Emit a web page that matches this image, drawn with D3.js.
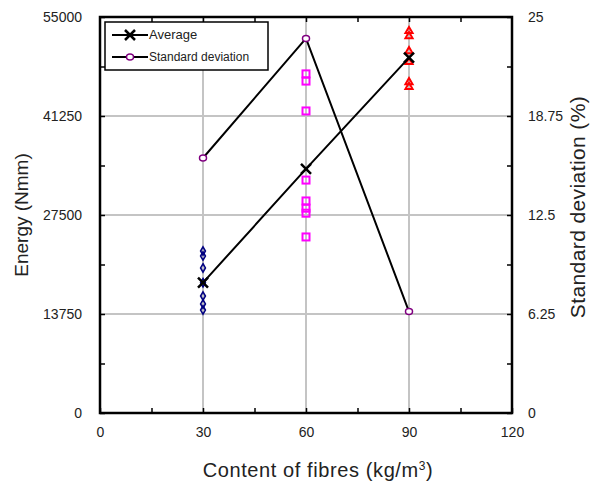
<!DOCTYPE html>
<html>
<head>
<meta charset="utf-8">
<script src="https://cdn.jsdelivr.net/npm/d3@7"></script>
<style>
  body { margin: 0; background: #fff; }
  svg text { font-family: "Liberation Sans", Arial, sans-serif; fill: #222; }
</style>
</head>
<body>
<svg id="chart" width="591" height="488"></svg>
<script>
// Fibre contents on the x axis
const contents = [30, 60, 90];

// Individual energy results per fibre content (Nmm)
const energy30 = [22500, 21800, 20150, 18100, 16250, 15150, 14300];
const energy60 = [47100, 46100, 41950, 32350, 29450, 28450, 27750, 24450];
const energy90 = [53050, 52350, 50250, 48750, 45950, 45300];

// Averages (left axis) and standard deviation (right axis, %)
const averages = [18100, 33900, 49350];
const stdDev = [16.1, 23.65, 6.4];

const xTicks = [0, 30, 60, 90, 120];
const yTicks = [0, 13750, 27500, 41250, 55000];
const y2Ticks = [0, 6.25, 12.5, 18.75, 25];

// Set up sizing constants
const margin = {top: 17, right: 79, bottom: 75, left: 100};
const svgWidth = 591;
const svgHeight = 488;
const width = svgWidth - margin.left - margin.right;
const height = svgHeight - margin.top - margin.bottom;

const svg = d3.select("svg#chart");

// Create the scales
const xScale = d3.scaleLinear().domain([0, 120]).range([margin.left, margin.left + width]);
const yScale = d3.scaleLinear().domain([0, 55000]).range([margin.top + height, margin.top]);
const y2Scale = d3.scaleLinear().domain([0, 25]).range([margin.top + height, margin.top]);

// Gridlines
const grid = svg.append("g");
grid.selectAll("line.vgrid")
  .data(xTicks.slice(1, -1))
  .enter().append("line")
  .attr("x1", d => xScale(d)).attr("x2", d => xScale(d))
  .attr("y1", margin.top).attr("y2", margin.top + height)
  .attr("stroke", "#c4c4c4").attr("stroke-width", 2);
grid.selectAll("line.hgrid")
  .data(yTicks.slice(1, -1))
  .enter().append("line")
  .attr("x1", margin.left).attr("x2", margin.left + width)
  .attr("y1", d => yScale(d)).attr("y2", d => yScale(d))
  .attr("stroke", "#c4c4c4").attr("stroke-width", 2);

// Axes with inward ticks (major + minor)
function styleAxis(g) {
  g.select(".domain").remove();
  g.selectAll(".tick line").attr("stroke", "#000").attr("stroke-width", 1.5);
  g.selectAll(".tick text").style("font-size", "14px").attr("fill", "#222");
}
const minorX = d3.range(0, 121, 15);
const minorY = d3.range(0, 55001, 6875);
const minorY2 = d3.range(0, 25.01, 3.125);

svg.append("g")
  .attr("transform", "translate(0," + (margin.top + height) + ")")
  .call(d3.axisBottom(xScale).tickValues(minorX).tickSize(-5).tickPadding(14)
    .tickFormat(d => xTicks.includes(d) ? d : ""))
  .call(styleAxis);
svg.append("g")
  .attr("transform", "translate(0," + margin.top + ")")
  .call(d3.axisTop(xScale).tickValues(minorX.filter(d => d > 0 && d < 120)).tickSize(-5).tickFormat(""))
  .call(styleAxis);
svg.append("g")
  .attr("transform", "translate(" + margin.left + ",0)")
  .call(d3.axisLeft(yScale).tickValues(minorY).tickSize(-5).tickPadding(18)
    .tickFormat(d => yTicks.includes(d) ? d : ""))
  .call(styleAxis);
svg.append("g")
  .attr("transform", "translate(" + (margin.left + width) + ",0)")
  .call(d3.axisRight(y2Scale).tickValues(minorY2).tickSize(-5).tickPadding(16)
    .tickFormat(d => y2Ticks.includes(d) ? d : ""))
  .call(styleAxis);

// Frame
svg.append("rect")
  .attr("x", margin.left).attr("y", margin.top)
  .attr("width", width).attr("height", height)
  .attr("fill", "none").attr("stroke", "#000").attr("stroke-width", 2.5);

// Individual results
const chart = svg.append("g");
chart.selectAll("path.d30")
  .data(energy30).enter().append("path")
  .attr("d", d3.symbol(d3.symbolDiamond, 20))
  .attr("transform", d => "translate(" + xScale(30) + "," + yScale(d) + ")")
  .attr("fill", "none").attr("stroke", "#000080").attr("stroke-width", 1.6);
chart.selectAll("rect.d60")
  .data(energy60).enter().append("rect")
  .attr("x", xScale(60) - 3.5).attr("y", d => yScale(d) - 3.5)
  .attr("width", 7).attr("height", 7)
  .attr("fill", "none").attr("stroke", "#ff00ff").attr("stroke-width", 2);
chart.selectAll("path.d90")
  .data(energy90).enter().append("path")
  .attr("d", d3.symbol(d3.symbolTriangle, 22))
  .attr("transform", d => "translate(" + xScale(90) + "," + yScale(d) + ")")
  .attr("fill", "none").attr("stroke", "#ff0000").attr("stroke-width", 2);

// Average line
const avgLine = d3.line().x((d, i) => xScale(contents[i])).y(d => yScale(d));
chart.append("path")
  .attr("d", avgLine(averages))
  .attr("fill", "none").attr("stroke", "#000").attr("stroke-width", 2);

// Standard deviation line
const sdLine = d3.line().x((d, i) => xScale(contents[i])).y(d => y2Scale(d));
chart.append("path")
  .attr("d", sdLine(stdDev))
  .attr("fill", "none").attr("stroke", "#000").attr("stroke-width", 2);

function crossMarker(g, cx, cy) {
  g.append("path")
    .attr("d", "M" + (cx - 5) + "," + (cy - 5) + "L" + (cx + 5) + "," + (cy + 5) +
               "M" + (cx - 5) + "," + (cy + 5) + "L" + (cx + 5) + "," + (cy - 5))
    .attr("stroke", "#000").attr("stroke-width", 2.5);
}
averages.forEach((d, i) => crossMarker(chart, xScale(contents[i]), yScale(d)));

chart.selectAll("ellipse.sd")
  .data(stdDev).enter().append("ellipse")
  .attr("cx", (d, i) => xScale(contents[i])).attr("cy", d => y2Scale(d))
  .attr("rx", 3.5).attr("ry", 3)
  .attr("fill", "#fff").attr("stroke", "#800080").attr("stroke-width", 1.5);

// Legend
const legend = svg.append("g");
legend.append("rect")
  .attr("x", 105).attr("y", 22).attr("width", 163).attr("height", 48)
  .attr("fill", "#fff").attr("stroke", "#000").attr("stroke-width", 1.5);
legend.append("line").attr("x1", 112).attr("x2", 148).attr("y1", 35).attr("y2", 35)
  .attr("stroke", "#000").attr("stroke-width", 2);
crossMarker(legend, 130, 35);
legend.append("text").attr("x", 149).attr("y", 39).text("Average").style("font-size", "13px");
legend.append("line").attr("x1", 112).attr("x2", 148).attr("y1", 57).attr("y2", 57)
  .attr("stroke", "#000").attr("stroke-width", 2);
legend.append("ellipse").attr("cx", 130).attr("cy", 57).attr("rx", 3.5).attr("ry", 3)
  .attr("fill", "#fff").attr("stroke", "#800080").attr("stroke-width", 1.5);
legend.append("text").attr("x", 149).attr("y", 61).text("Standard deviation").style("font-size", "12px");

// Axis titles
svg.append("text")
  .attr("x", xScale(60) + 12).attr("y", 477)
  .attr("text-anchor", "middle").style("font-size", "20px").style("letter-spacing", "0.6px")
  .html("Content of fibres (kg/m<tspan dy='-7' style='font-size:12px'>3</tspan><tspan dy='7'>)</tspan>");
svg.append("text")
  .attr("transform", "translate(28," + yScale(27500) + ") rotate(-90)")
  .attr("text-anchor", "middle").style("font-size", "19px")
  .text("Energy (Nmm)");
svg.append("text")
  .attr("transform", "translate(585," + (yScale(27500) - 8) + ") rotate(-90)")
  .attr("text-anchor", "middle").style("font-size", "21px").style("letter-spacing", "0.4px")
  .text("Standard deviation (%)");
</script>
</body>
</html>
